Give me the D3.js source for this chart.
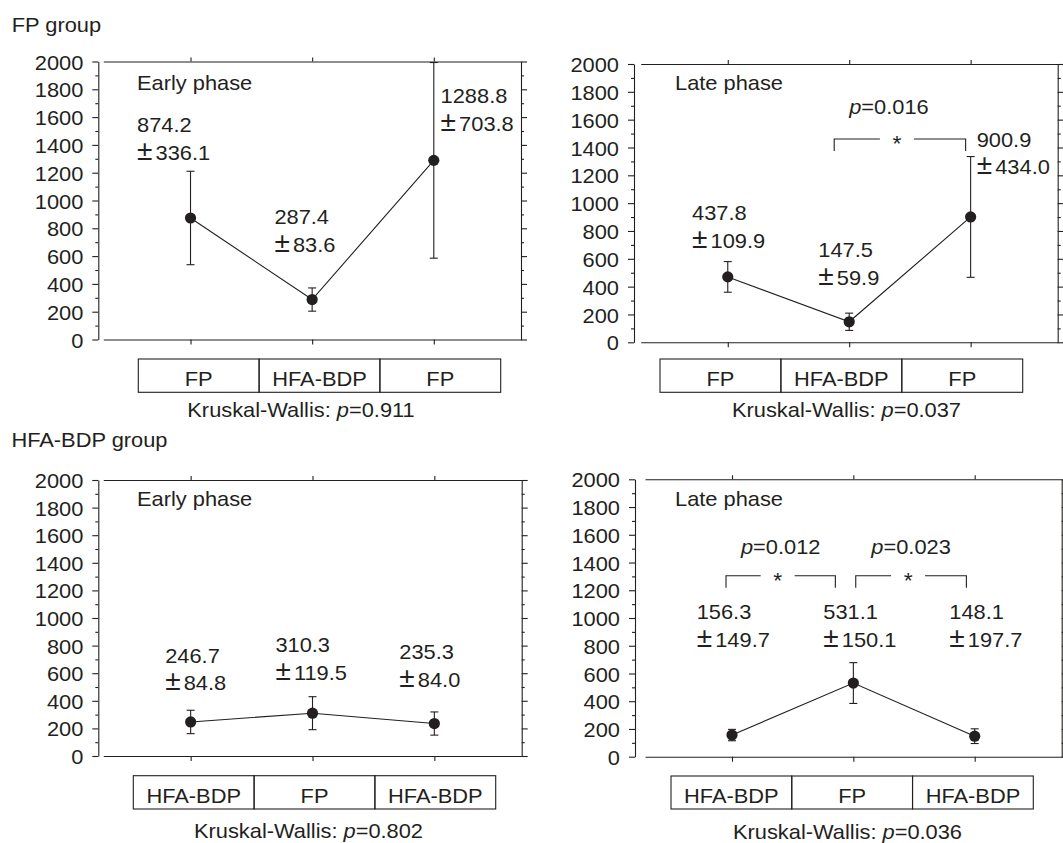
<!DOCTYPE html>
<html>
<head>
<meta charset="utf-8">
<script src="https://cdn.jsdelivr.net/npm/d3@7"></script>
<style>
body { margin: 0; background: #fff; }
svg text { font-family: "Liberation Sans", Arial, Helvetica, sans-serif; fill: #231f20; }
</style>
</head>
<body>
<script>
var width = 1063;
var height = 843;
var ink = "#231f20";
var FS = 21;     // base font size
var SX = 1.04;   // the original lettering is a little wider than Arial

// treatment order in each group
var fpOrder = ["FP", "HFA-BDP", "FP"];
var hfaOrder = ["HFA-BDP", "FP", "HFA-BDP"];

// plotted means and error bar half-lengths
var fpEarlyMean = [874.2, 287.4, 1288.8];
var fpEarlyErr = [336.1, 83.6, 703.8];
var fpLateMean = [470, 147.5, 900.9];
var fpLateErr = [110, 62, 434.0];
var hfaEarlyMean = [246.7, 310.3, 235.3];
var hfaEarlyErr = [84.8, 119.5, 84.0];
var hfaLateMean = [156, 531.1, 148];
var hfaLateErr = [41, 147, 53];

// printed value labels (mean, sd)
var fpEarlyLab = [["874.2", "336.1"], ["287.4", "83.6"], ["1288.8", "703.8"]];
var fpLateLab = [["437.8", "109.9"], ["147.5", "59.9"], ["900.9", "434.0"]];
var hfaEarlyLab = [["246.7", "84.8"], ["310.3", "119.5"], ["235.3", "84.0"]];
var hfaLateLab = [["156.3", "149.7"], ["531.1", "150.1"], ["148.1", "197.7"]];

// pairwise tests shown with brackets
var fpLateComp = [{a: 1, b: 2, p: "0.016"}];
var hfaLateComp = [{a: 0, b: 1, p: "0.012"}, {a: 1, b: 2, p: "0.023"}];

var kwP = ["0.911", "0.037", "0.802", "0.036"];
var groupNames = ["FP group", "HFA-BDP group"];
var yMajor = [0, 200, 400, 600, 800, 1000, 1200, 1400, 1600, 1800, 2000];
var yMinor = [100, 300, 500, 700, 900, 1100, 1300, 1500, 1700, 1900];

// panel layout (pixels)
var panels = [
  {order: fpOrder, mean: fpEarlyMean, err: fpEarlyErr, lab: fpEarlyLab, comp: [], phase: "Early phase", kw: kwP[0],
   ax: 98.3, fl: 103.3, fr: 521, top: 61.5, bot: 339.5, box: [138.3, 500.7, 359, 392.3], kwX: 301, kwY: 417,
   phX: 137, phY: 90, labPos: [[137, 132], [274.4, 224], [440.6, 103]]},
  {order: fpOrder, mean: fpLateMean, err: fpLateErr, lab: fpLateLab, comp: fpLateComp, phase: "Late phase", kw: kwP[1],
   ax: 634, fl: 640.7, fr: 1057.7, top: 64, bot: 342.3, box: [660, 1022.7, 359, 392.3], kwX: 846.5, kwY: 417,
   phX: 675, phY: 90, labPos: [[692, 220], [818.3, 257.3], [976.7, 146.7]],
   compPos: [{x0: -15, x1: -5, yv: 1461, pdy: 25, pdx: -11}]},
  {order: hfaOrder, mean: hfaEarlyMean, err: hfaEarlyErr, lab: hfaEarlyLab, comp: [], phase: "Early phase", kw: kwP[2],
   ax: 98.3, fl: 103.3, fr: 521.7, top: 480, bot: 756, box: [133.3, 495.7, 775.7, 809], kwX: 308.5, kwY: 838,
   phX: 137, phY: 506, labPos: [[165.2, 662.7], [275.4, 652.3], [399.3, 659]]},
  {order: hfaOrder, mean: hfaLateMean, err: hfaLateErr, lab: hfaLateLab, comp: hfaLateComp, phase: "Late phase", kw: kwP[3],
   ax: 635, fl: 645, fr: 1061.7, top: 479.3, bot: 756.7, box: [671, 1033.3, 776, 809], kwX: 847.5, kwY: 839,
   phX: 675, phY: 506, labPos: [[696.7, 619.3], [823.3, 619.3], [949.3, 619.3]],
   compPos: [{x0: -6, x1: -18, yv: 1305, pdy: 21.5, pdx: 0}, {x0: 2.4, x1: -8.3, yv: 1305, pdy: 21.5, pdx: 0}]}
];

var svg = d3.select("body").append("svg")
    .attr("width", width)
    .attr("height", height);

// text with the slight horizontal stretch of the original
function txt(g, x, y, size, anchor) {
  return g.append("text")
    .attr("transform", "translate(" + x + "," + y + ") scale(" + SX + ",1)")
    .attr("text-anchor", anchor || "start")
    .style("font-size", size + "px");
}

txt(svg, 11.7, 32, FS).text(groupNames[0]);
txt(svg, 11.4, 446.7, FS).text(groupNames[1]);

panels.forEach(function(p) {
  var g = svg.append("g").attr("color", ink);
  var idx = [0, 1, 2];

  var y = d3.scaleLinear().domain([0, 2000]).range([p.bot, p.top]);
  var x = d3.scalePoint().domain(idx).range([p.fl, p.fr]).padding(0.717);

  // left axis
  var yAx = g.append("g")
      .attr("transform", "translate(" + p.ax + ",0)")
      .call(d3.axisLeft(y).tickValues(yMajor).tickFormat(d3.format("d")).tickSize(6).tickSizeOuter(0));
  yAx.selectAll("text")
      .attr("x", -15 / SX)
      .attr("dy", "0.36em")
      .attr("transform", "scale(" + SX + ",1)")
      .style("font-size", FS + "px");
  g.append("g")
      .attr("transform", "translate(" + p.ax + ",0)")
      .call(d3.axisLeft(y).tickValues(yMinor).tickSize(3).tickFormat(""))
      .select(".domain").remove();

  // right axis
  g.append("g")
      .attr("transform", "translate(" + p.fr + ",0)")
      .call(d3.axisRight(y).tickValues(yMajor).tickSize(6).tickSizeOuter(0).tickFormat(""));
  g.append("g")
      .attr("transform", "translate(" + p.fr + ",0)")
      .call(d3.axisRight(y).tickValues(yMinor).tickSize(3).tickFormat(""))
      .select(".domain").remove();

  // top and bottom frame lines with category ticks
  g.append("g")
      .attr("transform", "translate(0," + y(2000) + ")")
      .call(d3.axisTop(x).tickSize(4).tickSizeOuter(0).tickFormat(""));
  g.append("g")
      .attr("transform", "translate(0," + y(0) + ")")
      .call(d3.axisBottom(x).tickSize(5).tickSizeOuter(0).tickFormat(""));

  g.selectAll(".domain, .tick line").attr("stroke-width", 1.1);

  // phase name
  txt(g, p.phX, p.phY, FS).text(p.phase);

  // error bars
  var eb = g.selectAll(".eb").data(idx).enter().append("g").attr("class", "eb")
      .attr("stroke", ink).attr("stroke-width", 1.1);
  eb.append("line")
      .attr("x1", function(i) { return x(i); })
      .attr("x2", function(i) { return x(i); })
      .attr("y1", function(i) { return y(p.mean[i] - p.err[i]); })
      .attr("y2", function(i) { return y(p.mean[i] + p.err[i]); });
  eb.append("line")
      .attr("x1", function(i) { return x(i) - 4; })
      .attr("x2", function(i) { return x(i) + 4; })
      .attr("y1", function(i) { return y(p.mean[i] + p.err[i]); })
      .attr("y2", function(i) { return y(p.mean[i] + p.err[i]); });
  eb.append("line")
      .attr("x1", function(i) { return x(i) - 4; })
      .attr("x2", function(i) { return x(i) + 4; })
      .attr("y1", function(i) { return y(p.mean[i] - p.err[i]); })
      .attr("y2", function(i) { return y(p.mean[i] - p.err[i]); });

  // connecting line and dots
  var line = d3.line()
      .x(function(i) { return x(i); })
      .y(function(i) { return y(p.mean[i]); });
  g.append("path")
      .datum(idx)
      .attr("d", line)
      .attr("fill", "none")
      .attr("stroke", ink)
      .attr("stroke-width", 1.1);
  g.selectAll("circle").data(idx).enter().append("circle")
      .attr("cx", function(i) { return x(i); })
      .attr("cy", function(i) { return y(p.mean[i]); })
      .attr("r", 5.6)
      .attr("fill", ink);

  // mean +- sd labels
  idx.forEach(function(i) {
    var lp = p.labPos[i];
    txt(g, lp[0], lp[1], FS).text(p.lab[i][0]);
    var t2 = txt(g, lp[0], lp[1] + 27.5, FS);
    t2.append("tspan").style("font-size", "27px").text("\u00b1");
    t2.append("tspan").attr("dx", 3).text(p.lab[i][1]);
  });

  // significance brackets
  p.comp.forEach(function(c, k) {
    var cp = p.compPos[k];
    var xa = x(c.a) + cp.x0, xb = x(c.b) + cp.x1;
    var yl = y(cp.yv);
    var mid = (xa + xb) / 2 - 3;
    var br = g.append("g").attr("stroke", ink).attr("stroke-width", 1.1).attr("fill", "none");
    br.append("path").attr("d", "M" + xa + "," + (yl + 12) + "V" + yl + "H" + (mid - 17));
    br.append("path").attr("d", "M" + (mid + 17) + "," + yl + "H" + xb + "V" + (yl + 12));
    txt(g, mid, yl + 12, 22, "middle").style("font-weight", "300").text("*");
    var pt = txt(g, (xa + xb) / 2 + cp.pdx, yl - cp.pdy, FS, "middle");
    pt.append("tspan").style("font-style", "italic").text("p");
    pt.append("tspan").text("=" + c.p);
  });

  // treatment boxes
  var bx = d3.scaleBand().domain(idx).range([p.box[0], p.box[1]]);
  g.selectAll(".cell").data(idx).enter().append("rect")
      .attr("class", "cell")
      .attr("x", function(i) { return bx(i); })
      .attr("y", p.box[2])
      .attr("width", bx.bandwidth())
      .attr("height", p.box[3] - p.box[2])
      .attr("fill", "none")
      .attr("stroke", ink)
      .attr("stroke-width", 1.1);
  idx.forEach(function(i) {
    txt(g, bx(i) + bx.bandwidth() / 2, p.box[3] - 6.5, FS, "middle").text(p.order[i]);
  });

  // Kruskal-Wallis result
  var kw = txt(g, p.kwX, p.kwY, FS, "middle");
  kw.append("tspan").text("Kruskal-Wallis: ");
  kw.append("tspan").style("font-style", "italic").text("p");
  kw.append("tspan").text("=" + p.kw);
});
</script>
</body>
</html>
